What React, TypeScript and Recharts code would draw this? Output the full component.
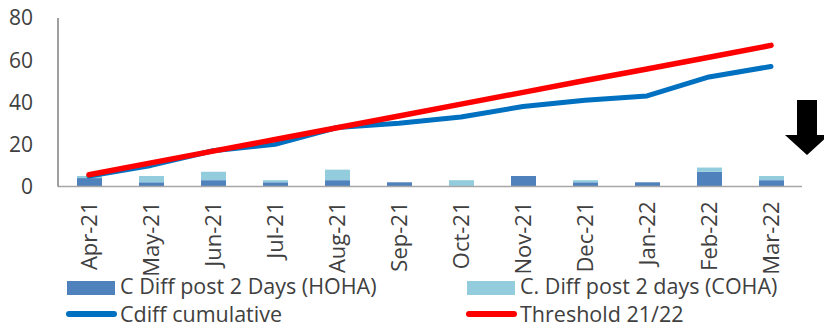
import React from 'react';
import {
  ComposedChart, Bar, Line, XAxis, YAxis,
} from 'recharts';

const MONTHS = [
  'Apr-21', 'May-21', 'Jun-21', 'Jul-21', 'Aug-21', 'Sep-21',
  'Oct-21', 'Nov-21', 'Dec-21', 'Jan-22', 'Feb-22', 'Mar-22',
];
const HOHA = [4, 2, 3, 2, 3, 2, 0, 5, 2, 2, 7, 3];
const COHA = [1, 3, 4, 1, 5, 0, 3, 0, 1, 0, 2, 2];
const CUMULATIVE = [5, 10, 17, 20, 28, 30, 33, 38, 41, 43, 52, 57];
const THRESHOLD = [5.6, 11.2, 16.8, 22.3, 27.9, 33.5, 39.1, 44.7, 50.3, 55.8, 61.4, 67];
const Y_TICKS = [0, 20, 40, 60, 80];

const FONT = '"Open Sans", "Noto Sans", sans-serif';
const TEXT = '#404040';
const HOHA_COLOR = '#4F81BD';
const COHA_COLOR = '#93CDDD';
const CUM_COLOR = '#0070C0';
const THRESH_COLOR = '#FF0000';

const data = MONTHS.map((month, i) => ({
  month,
  hoha: HOHA[i],
  coha: COHA[i],
  cumulative: CUMULATIVE[i],
  threshold: THRESHOLD[i],
}));

const MonthTick = (props: any) => {
  const { x, y, payload } = props;
  return (
    <text
      transform={`translate(${x},${y + 7}) rotate(-90)`}
      textAnchor="end"
      dy="0.36em"
      fill={TEXT}
      fontSize={22}
      fontFamily={FONT}
    >
      {payload.value}
    </text>
  );
};

const legendText: React.CSSProperties = {
  position: 'absolute',
  fontSize: 21.5,
  color: TEXT,
  fontFamily: FONT,
  lineHeight: '26px',
  whiteSpace: 'nowrap',
};

export default function App() {
  return (
    <div style={{ position: 'absolute', left: 0, top: 0, width: 824, height: 329, background: '#fff', overflow: 'hidden' }}>
      <ComposedChart
        width={824}
        height={329}
        data={data}
        margin={{ top: 18, right: 22, left: 0, bottom: 0 }}
      >
        <XAxis
          dataKey="month"
          interval={0}
          tickLine={false}
          axisLine={{ stroke: '#A6A6A6', strokeWidth: 1.5 }}
          height={142.5}
          tick={<MonthTick />}
        />
        <YAxis
          domain={[0, 80]}
          ticks={Y_TICKS}
          width={58}
          tickLine={false}
          tickMargin={19}
          axisLine={{ stroke: '#404040', strokeWidth: 1 }}
          tick={{ fill: TEXT, fontSize: 21, fontFamily: FONT }}
        />
        <Bar dataKey="hoha" stackId="a" fill={HOHA_COLOR} barSize={25} isAnimationActive={false} />
        <Bar dataKey="coha" stackId="a" fill={COHA_COLOR} barSize={25} isAnimationActive={false} />
        <Line
          type="linear"
          dataKey="cumulative"
          stroke={CUM_COLOR}
          strokeWidth={5}
          strokeLinecap="round"
          strokeLinejoin="round"
          dot={false}
          isAnimationActive={false}
        />
        <Line
          type="linear"
          dataKey="threshold"
          stroke={THRESH_COLOR}
          strokeWidth={5.5}
          strokeLinecap="round"
          strokeLinejoin="round"
          dot={false}
          isAnimationActive={false}
        />
      </ComposedChart>

      {/* legend: two rows, two columns */}
      <div style={{ position: 'absolute', left: 67, top: 281, width: 48, height: 14, background: HOHA_COLOR }} />
      <div style={{ ...legendText, left: 120, top: 273 }}>C Diff post 2 Days (HOHA)</div>
      <div style={{ position: 'absolute', left: 467, top: 281, width: 48, height: 14, background: COHA_COLOR }} />
      <div style={{ ...legendText, left: 520, top: 273 }}>C. Diff post 2 days (COHA)</div>
      <div style={{ position: 'absolute', left: 66, top: 311, width: 51, height: 6, borderRadius: 3, background: CUM_COLOR }} />
      <div style={{ ...legendText, left: 120, top: 301 }}>Cdiff cumulative</div>
      <div style={{ position: 'absolute', left: 466, top: 311, width: 51, height: 6, borderRadius: 3, background: THRESH_COLOR }} />
      <div style={{ ...legendText, left: 520, top: 301 }}>Threshold 21/22</div>

      {/* downward arrow marker */}
      <svg style={{ position: 'absolute', left: 0, top: 0 }} width={824} height={329}>
        <polygon points="797,100 817,100 817,135 829,135 807,155 785,135 797,135" fill="#000" />
      </svg>
    </div>
  );
}
